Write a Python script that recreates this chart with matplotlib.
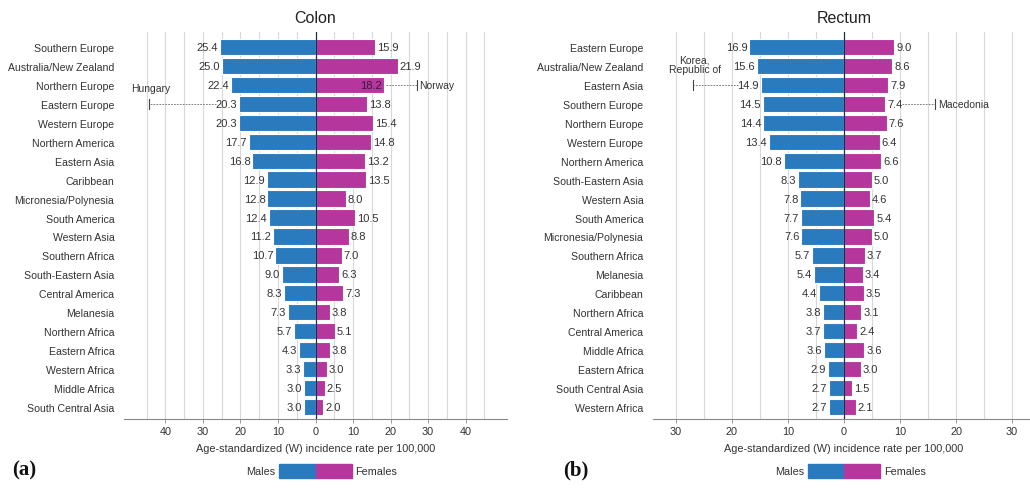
import matplotlib
matplotlib.use("Agg")
import matplotlib.pyplot as plt
from matplotlib.patches import Rectangle
import numpy as np

plt.rcParams["font.family"] = ["Liberation Sans", "DejaVu Sans"]

BLUE = "#2a7bbd"
PINK = "#b5369c"
TEXT = "#333333"

# Colon: age-standardized incidence per 100,000
colon_regions = [
    "Southern Europe", "Australia/New Zealand", "Northern Europe", "Eastern Europe",
    "Western Europe", "Northern America", "Eastern Asia", "Caribbean",
    "Micronesia/Polynesia", "South America", "Western Asia", "Southern Africa",
    "South-Eastern Asia", "Central America", "Melanesia", "Northern Africa",
    "Eastern Africa", "Western Africa", "Middle Africa", "South Central Asia",
]
colon_males = [25.4, 25.0, 22.4, 20.3, 20.3, 17.7, 16.8, 12.9, 12.8, 12.4,
               11.2, 10.7, 9.0, 8.3, 7.3, 5.7, 4.3, 3.3, 3.0, 3.0]
colon_females = [15.9, 21.9, 18.2, 13.8, 15.4, 14.8, 13.2, 13.5, 8.0, 10.5,
                 8.8, 7.0, 6.3, 7.3, 3.8, 5.1, 3.8, 3.0, 2.5, 2.0]

# Rectum
rectum_regions = [
    "Eastern Europe", "Australia/New Zealand", "Eastern Asia", "Southern Europe",
    "Northern Europe", "Western Europe", "Northern America", "South-Eastern Asia",
    "Western Asia", "South America", "Micronesia/Polynesia", "Southern Africa",
    "Melanesia", "Caribbean", "Northern Africa", "Central America",
    "Middle Africa", "Eastern Africa", "South Central Asia", "Western Africa",
]
rectum_males = [16.9, 15.6, 14.9, 14.5, 14.4, 13.4, 10.8, 8.3, 7.8, 7.7,
                7.6, 5.7, 5.4, 4.4, 3.8, 3.7, 3.6, 2.9, 2.7, 2.7]
rectum_females = [9.0, 8.6, 7.9, 7.4, 7.6, 6.4, 6.6, 5.0, 4.6, 5.4,
                  5.0, 3.7, 3.4, 3.5, 3.1, 2.4, 3.6, 3.0, 1.5, 2.1]

# highest country in a region: (country, region, sex, value)
colon_highlights = [("Hungary", "Eastern Europe", "M", 44.4),
                    ("Norway", "Northern Europe", "F", 26.9)]
rectum_highlights = [("Korea,\nRepublic of", "Eastern Asia", "M", 27.0),
                     ("Macedonia", "Southern Europe", "F", 16.2)]

XLABEL = "Age-standardized (W) incidence rate per 100,000"


def draw_panel(fig, ax, title, regions, males, females, xmax, ticks, highlights,
               ppu):
    y = np.arange(len(regions))
    ax.set_xlim(-xmax, xmax)
    ax.set_ylim(len(regions) - 0.37, -0.79)

    for g in np.arange(-45, 50, 5):
        if g != 0 and abs(g) < xmax:
            ax.axvline(g, color="#d8d8d8", lw=0.8, zorder=0)

    ax.barh(y, [-m for m in males], height=0.86, color=BLUE,
            edgecolor="white", lw=0.8, zorder=2)
    ax.barh(y, females, height=0.86, color=PINK,
            edgecolor="white", lw=0.8, zorder=2)
    ax.axvline(0, color="#1d2a55", lw=0.9, zorder=3)

    off = 2.0 / ppu
    inside = {r for _, r, s, _ in highlights if s == "F" and r == "Northern Europe"}
    for i, (m, f) in enumerate(zip(males, females)):
        ax.text(-m - off, i, f"{m:.1f}", ha="right", va="center",
                fontsize=8, color=TEXT, zorder=4)
        if regions[i] in inside:
            ax.text(f - off, i, f"{f:.1f}", ha="right", va="center",
                    fontsize=8, color="#3a1a40", zorder=4)
        else:
            ax.text(f + off, i, f"{f:.1f}", ha="left", va="center",
                    fontsize=8, color=TEXT, zorder=4)

    label_w = 21.0 / ppu
    for name, region, sex, val in highlights:
        i = regions.index(region)
        if sex == "M":
            start = -males[i] - off - label_w
            end = -val
        else:
            if region in inside:
                start = females[i] + off
            else:
                start = females[i] + off + 15.0 / ppu
            end = val
        ax.plot([start, end], [i, i], color="#666666", lw=0.6,
                ls=(0, (2, 1.5)), zorder=4)
        ax.plot([end, end], [i - 0.25, i + 0.25], color="#444444", lw=0.8,
                zorder=4)
        if sex == "M":
            ax.text(end + 2.0 / ppu, i - 0.55, name, ha="center", va="bottom",
                    fontsize=7.5, color=TEXT, linespacing=1.05, zorder=4)
        else:
            ax.text(end + 3.0 / ppu, i, name, ha="left", va="center",
                    fontsize=7.5, color=TEXT, zorder=4)

    ax.set_yticks(y)
    ax.set_yticklabels(regions, fontsize=7.6, color=TEXT)
    ax.tick_params(axis="y", length=0, pad=7)
    ax.set_xticks(ticks)
    ax.set_xticklabels([str(abs(t)) for t in ticks], fontsize=7.8, color=TEXT)
    ax.tick_params(axis="x", length=3, width=0.6, color="#888888", pad=2)
    for side in ["top", "right", "left"]:
        ax.spines[side].set_visible(False)
    ax.spines["bottom"].set_color("#888888")
    ax.spines["bottom"].set_linewidth(0.8)
    ax.set_xlabel(XLABEL, fontsize=7.8, color=TEXT, labelpad=5)
    ax.set_title(title, fontsize=11.5, color="#222222", pad=7)

    # legend: two swatches meeting at x = 0
    x0 = fig.transFigure.inverted().transform(ax.transData.transform((0, 0)))[0]
    w = 36 / fig.bbox.width
    h = 14 / fig.bbox.height
    yc = 1 - 472 / fig.bbox.height
    fig.patches.append(Rectangle((x0 - w, yc - h / 2), w, h, color=BLUE,
                                 transform=fig.transFigure, figure=fig))
    fig.patches.append(Rectangle((x0, yc - h / 2), w, h, color=PINK,
                                 transform=fig.transFigure, figure=fig))
    fig.text(x0 - w - 4 / fig.bbox.width, yc, "Males", ha="right", va="center",
             fontsize=7.8, color=TEXT)
    fig.text(x0 + w + 4 / fig.bbox.width, yc, "Females", ha="left", va="center",
             fontsize=7.8, color=TEXT)


fig = plt.figure(figsize=(10.30, 4.89), dpi=100)
ax1 = fig.add_axes([124 / 1030, 1 - 420 / 489, 383 / 1030, 387 / 489])
ax2 = fig.add_axes([653 / 1030, 1 - 420 / 489, 382 / 1030, 387 / 489])

draw_panel(fig, ax1, "Colon", colon_regions, colon_males, colon_females,
           51, [-40, -30, -20, -10, 0, 10, 20, 30, 40], colon_highlights, 3.76)
draw_panel(fig, ax2, "Rectum", rectum_regions, rectum_males, rectum_females,
           34.1, [-30, -20, -10, 0, 10, 20, 30], rectum_highlights, 5.6)

fig.text(12 / 1030, 1 - 470 / 489, "(a)", family=["Liberation Serif", "DejaVu Serif"],
         fontweight="bold", fontsize=15, ha="left", va="center", color="#111111")
fig.text(563 / 1030, 1 - 470 / 489, "(b)", family=["Liberation Serif", "DejaVu Serif"],
         fontweight="bold", fontsize=15, ha="left", va="center", color="#111111")

fig.savefig("out.png", dpi=100)
